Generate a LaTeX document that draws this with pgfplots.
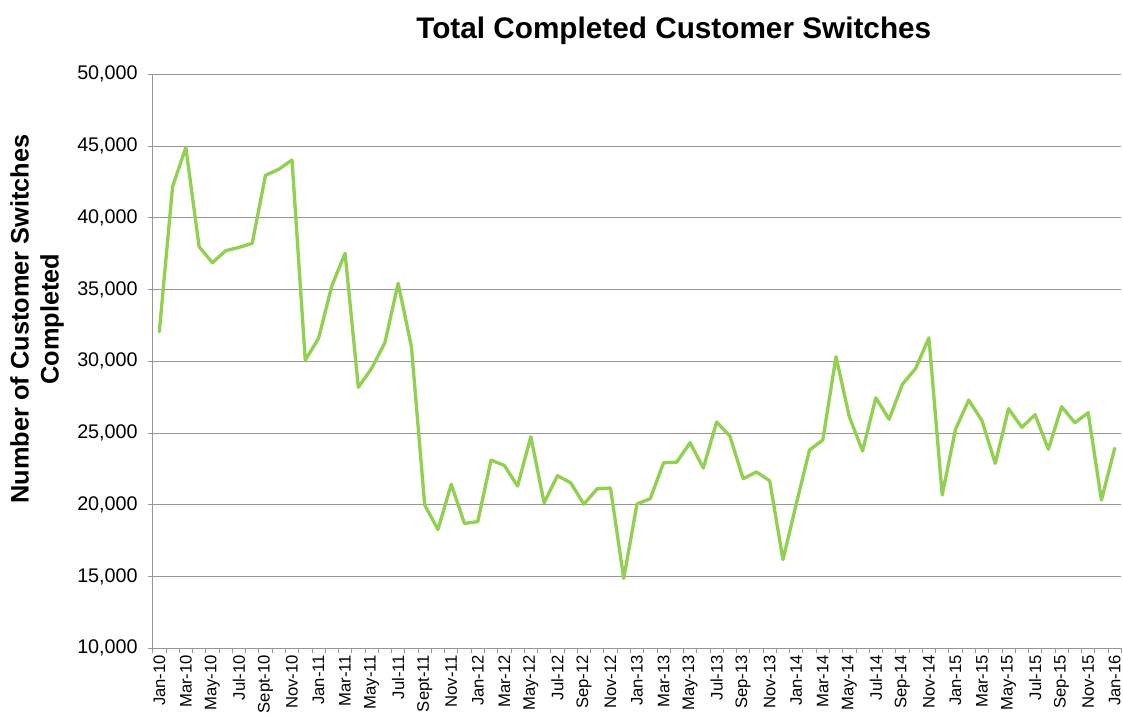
\documentclass[border=0pt]{standalone}
\usepackage{pgfplots}
\pgfplotsset{compat=1.18}
\usepackage{fontspec}
\setmainfont{Liberation Sans}
\definecolor{linegreen}{HTML}{92D050}
\definecolor{gridgray}{RGB}{150,150,150}
\pgfplotstableread{
i v
0 32060
1 42170
2 44910
3 37990
4 36870
5 37710
6 37940
7 38220
8 42960
9 43380
10 44030
11 30080
12 31600
13 35250
14 37530
15 28190
16 29510
17 31300
18 35440
19 31020
20 19990
21 18280
22 21430
23 18700
24 18830
25 23120
26 22750
27 21310
28 24750
29 20140
30 22030
31 21540
32 20040
33 21120
34 21170
35 14870
36 20060
37 20430
38 22930
39 22980
40 24330
41 22560
42 25770
43 24790
44 21820
45 22290
46 21680
47 16180
48 20050
49 23820
50 24520
51 30320
52 26140
53 23750
54 27460
55 25960
56 28400
57 29510
58 31640
59 20680
60 25260
61 27300
62 25860
63 22890
64 26700
65 25400
66 26280
67 23870
68 26840
69 25720
70 26420
71 20330
72 23940
}\switches
\begin{document}
\begin{tikzpicture}
\path[use as bounding box] (0,0) rectangle (842.25pt,537.75pt);
\begin{axis}[
  at={(114.5pt,51.5pt)}, anchor=south west,
  scale only axis, width=726.5pt, height=430.5pt,
  xmin=-0.5, xmax=72.5, ymin=10000, ymax=50000,
  axis x line*=bottom, axis y line*=left,
  axis line style={gridgray, line width=0.8pt, -},
  tick align=outside,
  major tick length=3.75pt, minor tick length=3.75pt,
  tick style={gridgray, line width=0.6pt},
  major x tick style={draw=none},
  xtick={0,2,...,72},
  minor xtick={-0.5,0.5,...,72.5},
  xticklabels={Jan-10,Mar-10,May-10,Jul-10,Sept-10,Nov-10,Jan-11,Mar-11,May-11,Jul-11,Sept-11,Nov-11,Jan-12,Mar-12,May-12,Jul-12,Sep-12,Nov-12,Jan-13,Mar-13,May-13,Jul-13,Sep-13,Nov-13,Jan-14,Mar-14,May-14,Jul-14,Sep-14,Nov-14,Jan-15,Mar-15,May-15,Jul-15,Sep-15,Nov-15,Jan-16},
  xticklabel style={rotate=90, anchor=east, font=\fontsize{12.5}{14}\selectfont, inner sep=1pt},
  ytick={10000,15000,...,50000},
  scaled y ticks=false,
  yticklabel style={font=\fontsize{14.8}{17}\selectfont, xshift=-4pt, /pgf/number format/fixed, /pgf/number format/1000 sep={,}},
  /pgf/number format/assume math mode=true,
  ymajorgrids, grid style={gridgray, line width=0.8pt},
  title={Total Completed Customer Switches},
  title style={at={(rel axis cs:0.538,1.049)}, anchor=base, yshift=0pt, font=\fontsize{22.3}{25}\selectfont\bfseries},
  ylabel={Number  of Customer  Switches\\Completed},
  ylabel style={at={(rel axis cs:-0.1194,0.5737)}, anchor=center, align=center, font=\fontsize{19}{22.5}\selectfont\bfseries},
]
\addplot[linegreen, line width=2.5pt, line join=round, line cap=round, mark=none] table[x=i, y=v] {\switches};
\end{axis}
\end{tikzpicture}
\end{document}
